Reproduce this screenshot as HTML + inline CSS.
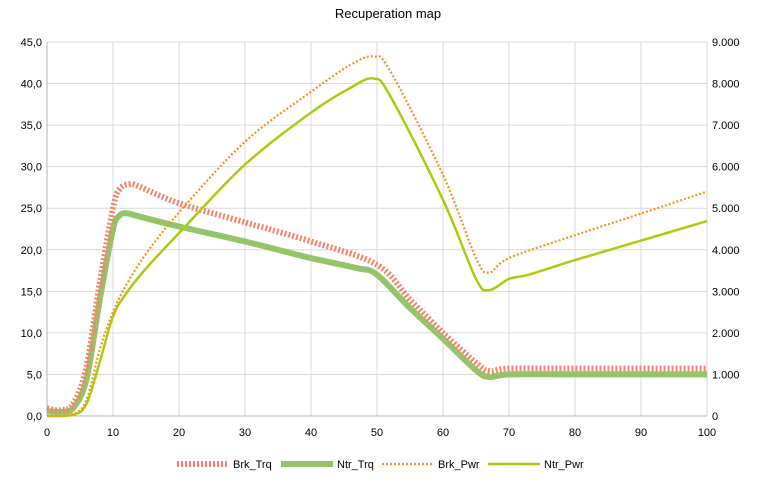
<!DOCTYPE html>
<html><head><meta charset="utf-8"><style>
html,body{margin:0;padding:0;background:#fff;}
svg{display:block;font-family:"Liberation Sans",sans-serif;}
</style></head><body>
<svg id="s" width="777" height="487" viewBox="0 0 777 487">
<rect width="777" height="487" fill="#fff"/>
<text x="388" y="18" text-anchor="middle" font-size="13" fill="#000">Recuperation map</text>
<g id="grid"></g>
<g id="series"></g>
<g font-size="11" fill="#000">
<line x1="177" y1="464" x2="229" y2="464" stroke="#f4846a" stroke-width="6" stroke-dasharray="2,2"/>
<text x="233" y="468">Brk_Trq</text>
<line x1="281" y1="464" x2="333" y2="464" stroke="#93c46a" stroke-width="6"/>
<text x="337" y="468">Ntr_Trq</text>
<line x1="382" y1="464" x2="434" y2="464" stroke="#ff8f1c" stroke-width="2.2" stroke-dasharray="2,2"/>
<text x="438" y="468">Brk_Pwr</text>
<line x1="488" y1="464" x2="540" y2="464" stroke="#a8cc10" stroke-width="2.5"/>
<text x="544" y="468">Ntr_Pwr</text>
</g>
</svg>
<script>
const NS="http://www.w3.org/2000/svg";
const X=x=>47+6.6*x, YL=v=>416-8.311*v, YR=p=>416-41.56*p;
const g=document.getElementById('grid'), se=document.getElementById('series');
function el(p,t,a,txt){const e=document.createElementNS(NS,t);for(const k in a)e.setAttribute(k,a[k]);if(txt!=null)e.textContent=txt;p.appendChild(e);return e;}
for(let i=0;i<=9;i++){const y=YL(i*5);
 el(g,'line',{x1:47,x2:707,y1:y,y2:y,stroke:'#d9d9d9','stroke-width':1});
 el(g,'text',{x:42,y:y+4,'text-anchor':'end','font-size':11},(i*5).toFixed(1).replace('.',','));
 el(g,'text',{x:712,y:y+4,'font-size':11},i==0?'0':i+'.000');}
for(let i=0;i<=10;i++){const x=X(i*10);
 el(g,'line',{x1:x,x2:x,y1:42,y2:416,stroke:i==0?'#b3b3b3':'#d9d9d9','stroke-width':1});
 el(g,'text',{x:x,y:436,'text-anchor':'middle','font-size':11},String(i*10));}
el(g,'line',{x1:47,x2:707,y1:416,y2:416,stroke:'#b3b3b3'});
function path(pts,fy){const P=pts.map(p=>[X(p[0]),fy(p[1])]);let d='M'+P[0][0]+','+P[0][1];
 for(let i=0;i<P.length-1;i++){const p0=P[i-1]||P[i],p1=P[i],p2=P[i+1],p3=P[i+2]||P[i+1];
 const c1=[p1[0]+(p2[0]-p0[0])/6,p1[1]+(p2[1]-p0[1])/6],c2=[p2[0]-(p3[0]-p1[0])/6,p2[1]-(p3[1]-p1[1])/6];
 d+=` C${c1[0].toFixed(1)},${c1[1].toFixed(1)} ${c2[0].toFixed(1)},${c2[1].toFixed(1)} ${p2[0].toFixed(1)},${p2[1].toFixed(1)}`;}return d;}
const brkT=[[0,0.9],[2,0.7],[4,1.5],[6,6],[8,16],[10,25],[11,27.3],[12.5,27.9],[14,27.6],[20,25.6],[30,23.3],[40,21],[50,18.2],[55,14],[60,10],[65,6.4],[67,5.4],[70,5.7],[80,5.7],[100,5.7]];
const ntrT=[[0,0.6],[2,0.5],[4,1],[6,4.5],[8,14],[10,22.5],[11,24.1],[12,24.4],[14,24],[20,22.8],[30,21],[40,19],[47,17.8],[50,17],[55,13],[60,9.3],[65,5.5],[67,4.7],[70,5],[80,5],[100,5]];
const brkP=[[0,0],[4,0.05],[6,0.4],[8,1.6],[10,2.5],[12,3.15],[15,3.9],[20,4.9],[30,6.6],[40,7.8],[46,8.45],[49.5,8.65],[52,8.3],[60,5.8],[65,3.8],[67,3.45],[70,3.8],[80,4.35],[90,4.87],[100,5.4]];
const ntrP=[[0,0],[4,0.03],[6,0.3],[8,1.3],[10,2.4],[12,2.95],[15,3.55],[20,4.4],[30,6.05],[40,7.3],[46,7.9],[49.5,8.12],[52,7.7],[60,5.2],[65,3.3],[67,3.03],[70,3.3],[73,3.4],[80,3.75],[90,4.22],[100,4.69]];
el(se,'path',{d:path(ntrT,YL),fill:'none',stroke:'#93c46a','stroke-width':6});
el(se,'path',{d:path(brkT,YL),fill:'none',stroke:'#f4846a','stroke-width':6,'stroke-dasharray':'2,2'});
el(se,'path',{d:path(ntrP,YR),fill:'none',stroke:'#a8cc10','stroke-width':2.5});
el(se,'path',{d:path(brkP,YR),fill:'none',stroke:'#ff8f1c','stroke-width':2.2,'stroke-dasharray':'2,2'});
</script>
</body></html>
